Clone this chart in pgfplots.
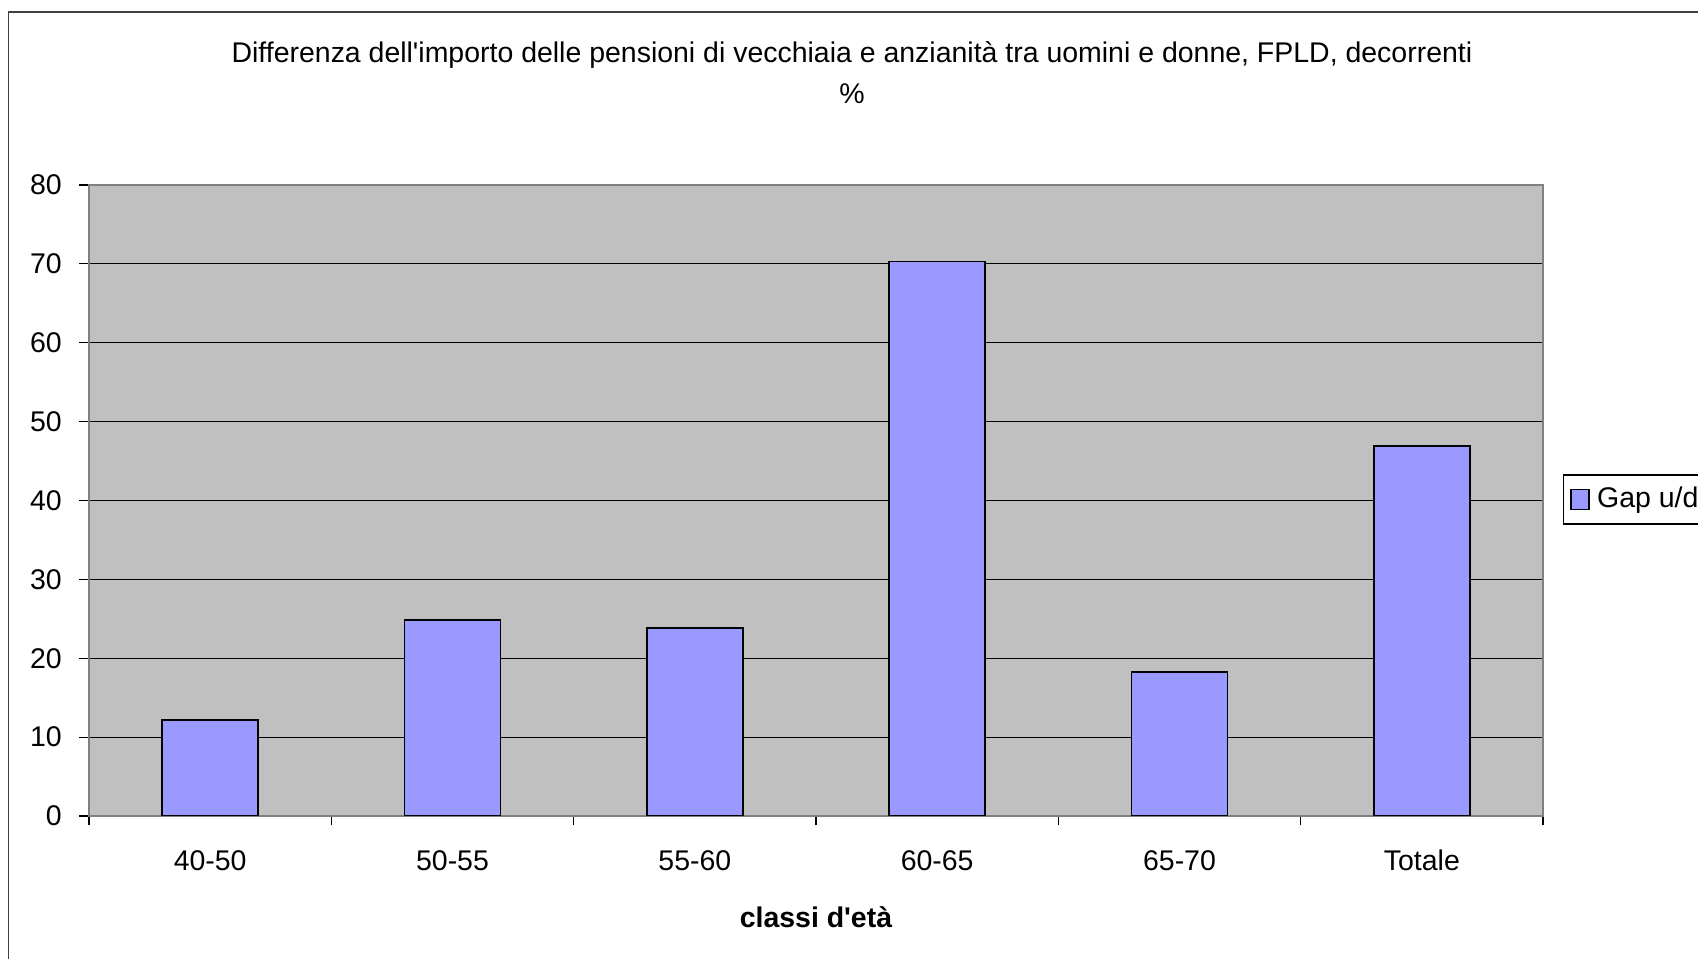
\documentclass[border=0pt]{standalone}
\usepackage{pgfplots}
\pgfplotsset{compat=1.18}
\usepackage{fontspec}
\setmainfont{Liberation Sans}
\definecolor{barblue}{HTML}{9999FF}
\definecolor{plotgray}{HTML}{C0C0C0}
\definecolor{framegray}{HTML}{808080}
\pgfplotsset{sq legend/.style={legend image code/.code={%
  \draw[##1, line width=0.4pt] (0cm,-0.1cm) rectangle (0.18cm,0.1cm);}}}
\begin{document}
\begin{tikzpicture}
\useasboundingbox (0,0) rectangle (16.98,9.59);
\clip (0,0) rectangle (16.98,9.59);
% outer chart frame (right and bottom edges fall outside the picture)
\draw[line width=0.45pt, black!75] (0.085,-1) -- (0.085,9.47) -- (18,9.47);
\node[font=\fontsize{8.1}{9.7}\selectfont, anchor=base] at (8.52,8.96)
  {Differenza dell\textquotesingle importo delle pensioni di vecchiaia e anzianità tra uomini e donne, FPLD, decorrenti};
\node[font=\fontsize{8.1}{9.7}\selectfont, anchor=base] at (8.52,8.55) {\%};
\begin{axis}[
  at={(0.89cm,1.43cm)}, anchor=south west,
  scale only axis, width=14.54cm, height=6.31cm,
  xmin=0.5, xmax=6.5, ymin=0, ymax=80,
  ybar, bar width=9.6mm,
  xtick={0.5,1.5,...,6.5},
  x tick label as interval,
  xticklabels={40-50,50-55,55-60,60-65,65-70,Totale},
  ytick={0,10,...,80},
  tick align=outside,
  major tick length=0.95mm,
  tick style={black, line width=0.3pt},
  xtick pos=bottom, ytick pos=left,
  ymajorgrids,
  major grid style={black, line width=0.3pt},
  axis line style={draw=framegray, line width=0.45pt},
  axis background/.style={fill=plotgray},
  /pgf/number format/assume math mode=true,
  tick label style={font=\fontsize{8.1}{9.7}\selectfont, inner sep=0pt},
  xticklabel shift=2.4mm,
  yticklabel shift=1.7mm,
  xlabel={\textbf{classi d\textquotesingle età}},
  xlabel style={font=\fontsize{8.1}{9.7}\selectfont, at={(axis description cs:0.5,-0.160)}, anchor=center, inner sep=0pt},
  legend style={at={(1.0138,0.5016)}, anchor=west, draw=black, line width=0.4pt,
    font=\fontsize{8.1}{9.7}\selectfont, inner xsep=0.65mm, inner ysep=0.65mm,
    nodes={inner ysep=0.5mm, inner xsep=0.75mm}},
]
\addplot[fill=barblue, draw=black, line width=0.55pt, sq legend]
coordinates {
(1,12.2)
(2,24.9)
(3,23.8)
(4,70.3)
(5,18.3)
(6,46.9)
};
\addlegendentry{Gap u/d}
\end{axis}
\end{tikzpicture}
\end{document}
